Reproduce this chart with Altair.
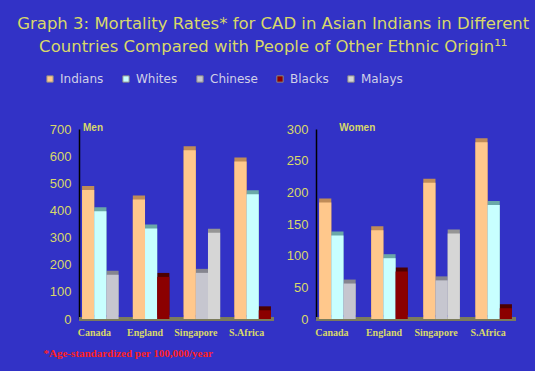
import altair as alt
import pandas as pd

countries = ["Canada", "England", "Singapore", "S.Africa"]
series = ["Indians", "Whites", "Chinese", "Blacks", "Malays"]

men_indians = [475, 440, 622, 580]
men_whites = [397, 333, None, 460]
men_chinese = [163, None, 170, None]
men_blacks = [None, 155, None, 32]
men_malays = [None, None, 318, None]

women_indians = [184, 140, 215, 279]
women_whites = [132, 96, None, 180]
women_chinese = [56, None, 61, None]
women_blacks = [None, 75, None, 17]
women_malays = [None, None, 135, None]

front_colors = ["#ffc88c", "#c8ffff", "#c6c6cf", "#8b0000", "#d6d6d6"]
side_colors = ["#c08c58", "#6aa8a8", "#85858f", "#4c0000", "#959595"]

BG = "#3232c6"
YEL = "#d8d86a"


def build(cols):
    rows = []
    for ci, c in enumerate(countries):
        slot = 0
        for si, s in enumerate(series):
            v = cols[si][ci]
            if v is None:
                continue
            rows.append({"country": c, "series": s, "value": v, "slot": slot,
                         "side": side_colors[si]})
            slot += 1
    return pd.DataFrame(rows)


men_df = build([men_indians, men_whites, men_chinese, men_blacks, men_malays])
women_df = build([women_indians, women_whites, women_chinese, women_blacks, women_malays])


def panel(df, ymax, step, title, tdx, note, legend):
    x = alt.X("country:N", sort=countries,
              scale=alt.Scale(paddingInner=0.28, paddingOuter=0.06),
              axis=alt.Axis(domain=False, ticks=False, labelAngle=0,
                            labelFont="Liberation Serif", labelFontSize=10,
                            labelFontWeight="bold", labelColor=YEL,
                            labelPadding=8, labelOffset=-6,
                            title=note if note else None,
                            titleColor="#ff2020", titleFontSize=11,
                            titleFont="Liberation Serif", titleFontWeight="bold",
                            titleX=-36, titleY=28, titleAlign="left"))
    yscale = alt.Scale(domain=[0, ymax], nice=False)
    yaxis = alt.Axis(values=list(range(0, ymax + 1, step)), grid=False,
                     domainColor="#000000", domainWidth=1.5, ticks=False,
                     labelColor=YEL, labelFont="Liberation Sans",
                     labelFontSize=13, labelPadding=8, labelOverlap=False,
                     title=None)
    y = alt.Y("value:Q", scale=yscale, axis=yaxis)
    xo = alt.XOffset("slot:O", scale=alt.Scale(domain=[0, 1, 2], paddingInner=0.0))
    base = alt.Chart(df)
    side = base.mark_bar(xOffset=4, yOffset=-4).encode(
        x=x, y=y, xOffset=xo, fill=alt.Fill("side:N", scale=None, legend=None))
    leg = None
    if legend:
        leg = alt.Legend(title=None, orient="none", direction="horizontal",
                         legendX=-35, legendY=-56, symbolType="square",
                         symbolSize=40, symbolStrokeColor="#888888",
                         symbolStrokeWidth=1, labelColor="#d0d0e6",
                         labelFont="DejaVu Sans", labelFontSize=12,
                         columnPadding=16)
    front = base.mark_bar().encode(
        x=x, y=y, xOffset=xo,
        color=alt.Color("series:N", scale=alt.Scale(domain=series, range=front_colors),
                        legend=leg))
    floor = alt.Chart(df).mark_rule(color="#7c7c5c", strokeWidth=3).encode(
        y=alt.Y(datum=0, scale=yscale, axis=yaxis))
    return alt.layer(floor, side, front).properties(
        width=195, height=190,
        title=alt.TitleParams(title, anchor="start", dx=tdx, offset=-10, fontSize=10,
                              fontWeight="bold", color=YEL, font="Liberation Sans"))


men = panel(men_df, 700, 100, "Men", 40, "*Age-standardized per 100,000/year", True)
women = panel(women_df, 300, 50, "Women", 53, None, False).properties(width=200)

chart = alt.hconcat(men, women, spacing=10).properties(
    title=alt.TitleParams(
        ["Graph 3: Mortality Rates* for CAD in Asian Indians in Different",
         "Countries Compared with People of Other Ethnic Origin¹¹"],
        color=YEL, fontSize=16.5, font="DejaVu Sans", fontWeight="normal",
        lineHeight=23, offset=18, anchor="middle", dx=-7),
    background=BG,
    padding={"left": 17, "top": 15, "right": 5, "bottom": 13},
).configure_view(stroke=None).resolve_scale(color="shared")

chart.save("out.html", embed_options={"renderer": "svg", "actions": False})
